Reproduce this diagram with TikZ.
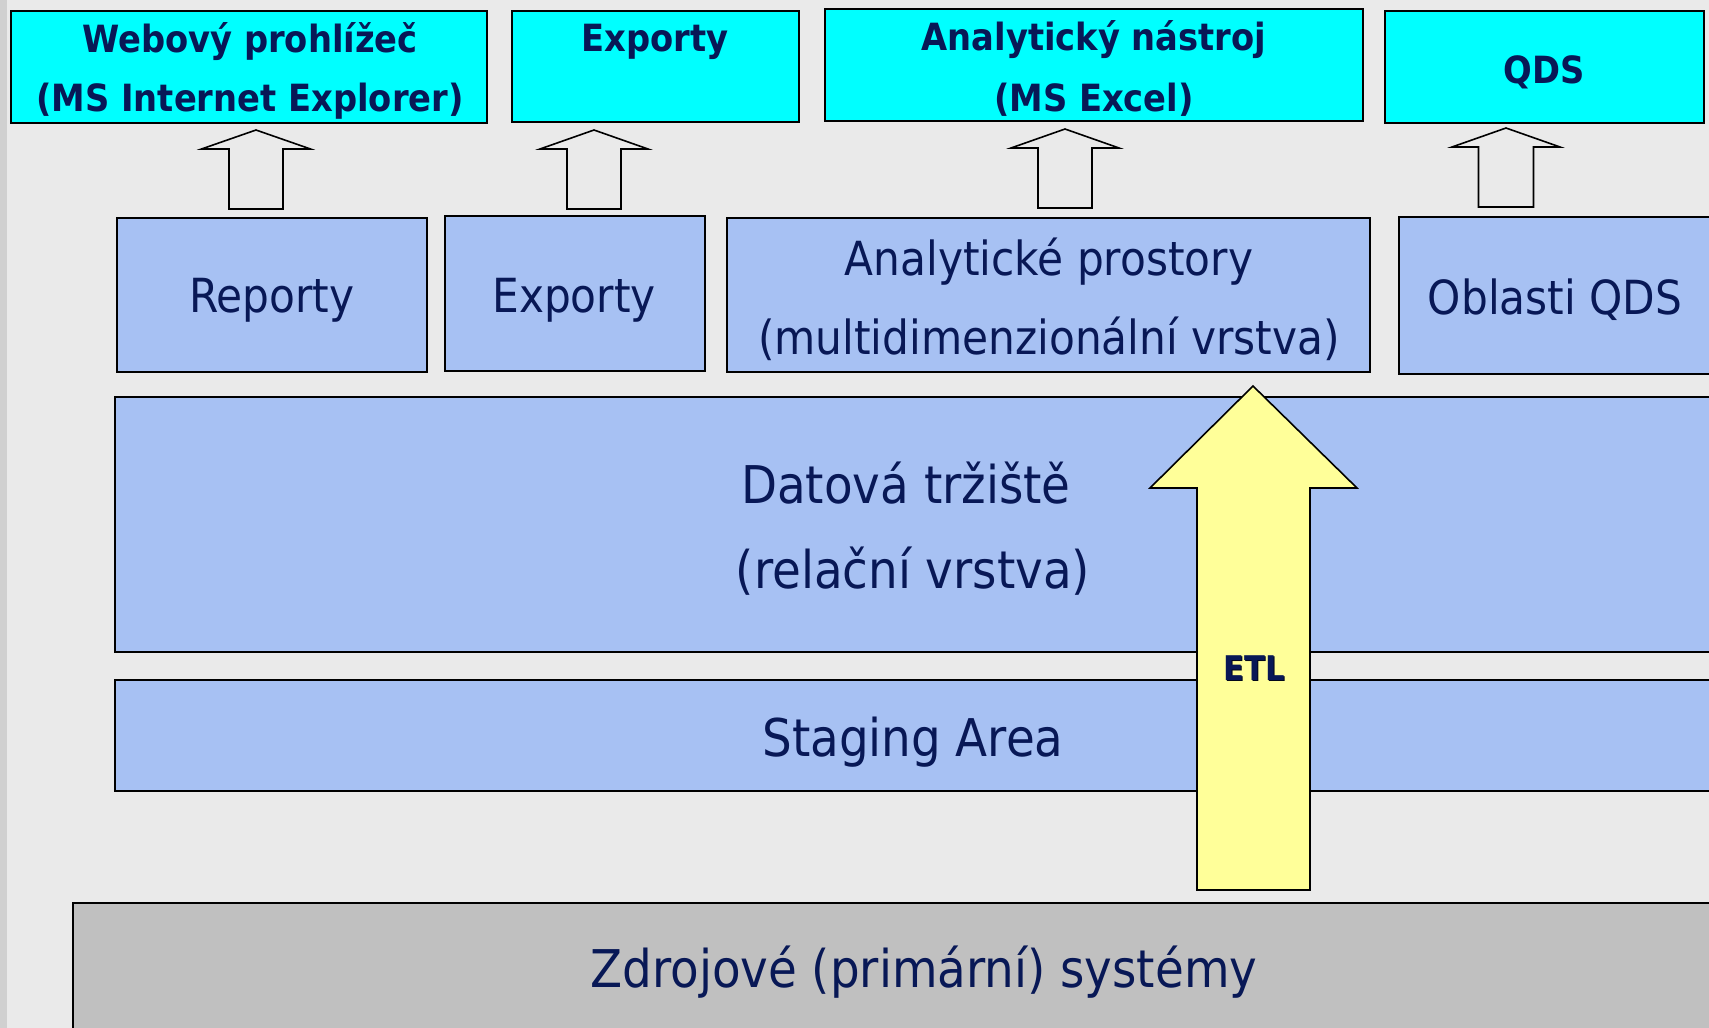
\documentclass[tikz,border=0pt]{standalone}
\usepackage{fontspec}
\setmainfont{DejaVu Sans Condensed}
\usetikzlibrary{positioning}
\definecolor{bg}{RGB}{234,234,234}
\definecolor{stripe}{RGB}{208,208,208}
\definecolor{cyanbox}{RGB}{0,255,255}
\definecolor{bluebox}{RGB}{167,193,243}
\definecolor{graybox}{RGB}{192,192,192}
\definecolor{etlyellow}{RGB}{255,255,153}
\definecolor{navy}{RGB}{8,24,86}
\tikzset{
  toolbox/.style={draw=black,line width=1.6pt,fill=cyanbox,inner sep=0pt},
  layerbox/.style={draw=black,line width=1.6pt,fill=bluebox,inner sep=0pt},
  srcbox/.style={draw=black,line width=1.6pt,fill=graybox,inner sep=0pt},
  blockarrow/.style={draw=black,line width=1.6pt,fill=bg,line join=miter},
  etlarrow/.style={draw=black,line width=1.6pt,fill=etlyellow,line join=miter},
  toollabel/.style={text=navy,inner sep=0pt,font=\fontsize{37.5}{45}\selectfont\bfseries},
  label/.style={text=navy,inner sep=0pt,font=\fontsize{47}{56}\selectfont},
  biglabel/.style={text=navy,inner sep=0pt,font=\fontsize{52}{60}\selectfont}
}
\newcommand{\hollowup}[6]{% tipx, tipy, headhalf, shafthalf, heady, bottomy
  \draw[blockarrow] (#1,#2) -- (#1+#3,#5) -- (#1+#4,#5) -- (#1+#4,#6)
    -- (#1-#4,#6) -- (#1-#4,#5) -- (#1-#3,#5) -- cycle;}
\begin{document}
\begin{tikzpicture}[x=1pt,y=-1pt]
\useasboundingbox (0,0) rectangle (1709,1028);
\clip (0,0) rectangle (1709,1028);
\fill[bg] (0,0) rectangle (1709,1028);
\fill[stripe] (0,0) rectangle (7,1028);

% top tool boxes
\node[toolbox,minimum width=476pt,minimum height=112pt] (web) at (249,67) {};
\node[toollabel] (webt1) at (250,42) {Webový prohlížeč};
\node[toollabel] (webt2) at (250,101) {(MS Internet Explorer)};

\node[toolbox,minimum width=287pt,minimum height=111pt] (exp) at (655.5,66.5) {};
\node[toollabel] (expt) at (655,42) {Exporty};

\node[toolbox,minimum width=538pt,minimum height=112pt] (ana) at (1094,65) {};
\node[toollabel] (anat1) at (1094,40) {Analytický nástroj};
\node[toollabel] (anat2) at (1094,100) {(MS Excel)};

\node[toolbox,minimum width=319pt,minimum height=112pt] (qds) at (1544.5,67) {};
\node[toollabel] (qdst) at (1544,72) {QDS};

% middle layer boxes
\node[layerbox,minimum width=310pt,minimum height=154pt] (rep) at (272,295) {};
\node[label] (rept) at (272,300) {Reporty};
\node[layerbox,minimum width=260pt,minimum height=155pt] (exl) at (575,293.5) {};
\node[label] (exlt) at (574,300) {Exporty};
\node[layerbox,minimum width=643pt,minimum height=154pt] (aps) at (1048.5,295) {};
\node[label] (apst1) at (1049,262) {Analytické prostory};
\node[label] (apst2) at (1049,339) {(multidimenzionální vrstva)};
\node[layerbox,minimum width=340pt,minimum height=157pt,anchor=north west] (obl) at (1398,216) {};
\node[label] (oblt) at (1555,300) {Oblasti QDS};

% wide layers
\node[layerbox,minimum width=1620pt,minimum height=255pt,anchor=north west] (dat) at (114,396) {};
\node[biglabel] (datt1) at (906,483) {Datová tržiště};
\node[biglabel] (datt2) at (913,571) {(relační vrstva)};
\node[layerbox,minimum width=1620pt,minimum height=111pt,anchor=north west] (stg) at (114,679) {};
\node[biglabel] (stgt) at (913,742) {Staging Area};
\node[srcbox,minimum width=1660pt,minimum height=160pt,anchor=north west] (src) at (72,902) {};
\node[biglabel] (srct) at (924,972) {Zdrojové (primární) systémy};

% hollow arrows between layers and tools
\hollowup{256}{130}{54.5}{27}{149}{209}
\hollowup{594}{130}{54}{27}{149}{209}
\hollowup{1065}{129}{54}{27}{148}{208}
\hollowup{1506}{128}{54}{27.5}{147}{207}

% ETL arrow
\draw[etlarrow] (1253,386) -- (1357,488) -- (1310,488) -- (1310,890)
  -- (1197,890) -- (1197,488) -- (1150,488) -- cycle;
\node[text=black!70!navy,font=\fontsize{34}{40}\selectfont\bfseries,inner sep=0pt] at (1255.5,669.5) {ETL};
\node[text=navy,font=\fontsize{34}{40}\selectfont\bfseries,inner sep=0pt] (etl) at (1254,668) {ETL};
\end{tikzpicture}
\end{document}
